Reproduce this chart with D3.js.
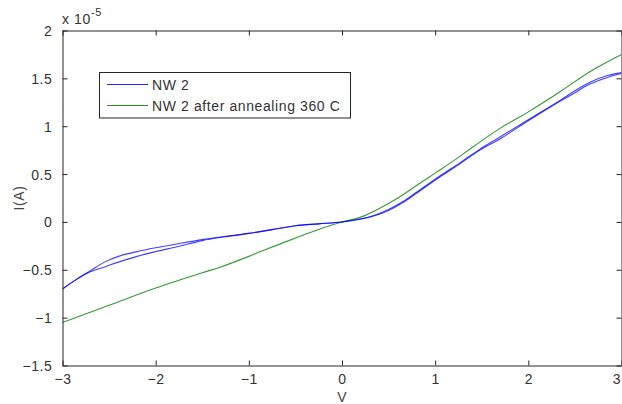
<!DOCTYPE html>
<html>
<head>
<meta charset="utf-8">
<script src="https://cdn.jsdelivr.net/npm/d3@7/dist/d3.min.js"></script>
<style>
  html, body { margin: 0; padding: 0; background: #fff; }
  svg { display: block; }
  text { font-family: Arial, "Liberation Sans", sans-serif; }
</style>
</head>
<body>
<svg id="chart" width="622" height="404"></svg>
<script>
// ---- Data (I in units of 1e-5 A) ----
const seriesNames = ["NW 2", "NW 2 after annealing 360 C"];
const xTicks = [-3, -2, -1, 0, 1, 2, 3];
const yTicks = [-1.5, -1, -0.5, 0, 0.5, 1, 1.5, 2];

// NW 2, forward sweep (upper branch in the hysteresis region)
const nw2V_up = [-3.0, -2.85, -2.7, -2.55, -2.4, -2.2, -2.0, -1.77, -1.5, -1.25, -1.0, -0.75, -0.5, -0.25, 0.0, 0.2, 0.35, 0.5, 0.65, 0.8, 1.05, 1.27, 1.48, 1.7, 2.02, 2.34, 2.5, 2.66, 2.85, 3.0];
const nw2I_up = [-0.70, -0.60, -0.51, -0.42, -0.36, -0.31, -0.27, -0.23, -0.185, -0.15, -0.12, -0.08, -0.04, -0.02, 0.0, 0.03, 0.07, 0.13, 0.21, 0.31, 0.48, 0.62, 0.76, 0.89, 1.08, 1.27, 1.37, 1.46, 1.53, 1.56];
// NW 2, reverse sweep (lower branch in the hysteresis region)
const nw2V_dn = [3.0, 2.85, 2.66, 2.5, 2.34, 2.02, 1.7, 1.48, 1.27, 1.05, 0.8, 0.65, 0.5, 0.35, 0.2, 0.0, -0.25, -0.5, -0.75, -1.0, -1.25, -1.5, -1.77, -2.0, -2.2, -2.4, -2.55, -2.7, -2.85, -3.0];
const nw2I_dn = [1.55, 1.51, 1.44, 1.35, 1.26, 1.07, 0.87, 0.75, 0.61, 0.47, 0.30, 0.20, 0.12, 0.065, 0.03, 0.0, -0.02, -0.04, -0.08, -0.12, -0.155, -0.195, -0.26, -0.31, -0.36, -0.42, -0.47, -0.52, -0.60, -0.70];

// NW 2 after annealing 360 C
const annV = [-3.0, -2.5, -2.0, -1.5, -1.3, -1.0, -0.875, -0.45, -0.2, 0.0, 0.2, 0.4, 0.6, 0.8, 1.0, 1.2, 1.4, 1.7, 2.0, 2.34, 2.66, 3.0];
const annI = [-1.05, -0.87, -0.69, -0.53, -0.47, -0.36, -0.31, -0.15, -0.06, 0.0, 0.05, 0.14, 0.25, 0.38, 0.51, 0.64, 0.78, 0.98, 1.15, 1.36, 1.57, 1.75];

// ---- Layout ----
const svg = d3.select("#chart");
const L = 62.5, R = 621.5, T = 30.5, B = 365.5;
const x = d3.scaleLinear().domain([-3, 3]).range([L, R]);
const y = d3.scaleLinear().domain([-1.5, 2]).range([B, T]);

const axisColor = "#262626";
const textColor = "#333";
const fontSize = "14px";
const ls = "0.6px";

svg.append("clipPath").attr("id", "clip")
  .append("rect").attr("x", L).attr("y", T).attr("width", R - L).attr("height", B - T);

const lineFree = d3.line().x(d => x(d[0])).y(d => y(d[1])).curve(d3.curveCatmullRom.alpha(0.5));

const g = svg.append("g").attr("clip-path", "url(#clip)");
const zip = (a, b) => a.map((v, i) => [v, b[i]]);

g.append("path").datum(zip(annV, annI))
  .attr("d", lineFree).attr("fill", "none").attr("stroke", "#008000").attr("stroke-width", 1.1).attr("stroke-opacity", 0.8);
g.append("path").datum(zip(nw2V_up, nw2I_up))
  .attr("d", lineFree).attr("fill", "none").attr("stroke", "#0000ff").attr("stroke-width", 1.1).attr("stroke-opacity", 0.75);
g.append("path").datum(zip(nw2V_dn, nw2I_dn))
  .attr("d", lineFree).attr("fill", "none").attr("stroke", "#0000ff").attr("stroke-width", 1.1).attr("stroke-opacity", 0.75);

// Axes with inward ticks (MATLAB style box)
const tickLen = 5;
const axB = svg.append("g").attr("transform", `translate(0,${B})`)
  .call(d3.axisBottom(x).tickValues(xTicks).tickSizeInner(-tickLen).tickSizeOuter(0).tickPadding(9).tickFormat(d3.format("d")));
const axT = svg.append("g").attr("transform", `translate(0,${T})`)
  .call(d3.axisTop(x).tickValues(xTicks).tickSizeInner(-tickLen).tickSizeOuter(0).tickFormat(""));
const axL = svg.append("g").attr("transform", `translate(${L},0)`)
  .call(d3.axisLeft(y).tickValues(yTicks).tickSizeInner(-tickLen).tickSizeOuter(0).tickPadding(10).tickFormat(d => d3.format("")(d)));
const axR = svg.append("g").attr("transform", `translate(${R},0)`)
  .call(d3.axisRight(y).tickValues(yTicks).tickSizeInner(-tickLen).tickSizeOuter(0).tickFormat(""));

[axB, axT, axL, axR].forEach(a => {
  a.select(".domain").attr("stroke", axisColor).attr("stroke-width", 1);
  a.selectAll(".tick line").attr("stroke", axisColor);
  a.selectAll(".tick text").attr("fill", textColor).style("font-size", fontSize)
    .style("font-family", "Arial, 'Liberation Sans', sans-serif").style("letter-spacing", ls);
});
axL.selectAll(".tick text").attr("dy", "0.36em");
axB.selectAll(".tick text").attr("dy", "0.71em");
// keep the last x label inside the window
axB.selectAll(".tick text").filter(d => d === 3).attr("text-anchor", "end").attr("dx", "-1.5px").style("letter-spacing", "0px");

// Exponent label
const expo = svg.append("text").attr("x", 62).attr("y", 24).attr("fill", textColor)
  .style("font-size", fontSize).style("letter-spacing", ls);
expo.append("tspan").text("x 10");
expo.append("tspan").attr("dy", -8).style("font-size", "11px").text("-5");

// Axis labels
svg.append("text").attr("x", x(0)).attr("y", 402).attr("text-anchor", "middle")
  .attr("fill", "#444").style("font-size", fontSize).text("V");
svg.append("text").attr("transform", `translate(24,${(T + B) / 2}) rotate(-90)`).attr("text-anchor", "middle")
  .attr("fill", "#444").style("font-size", fontSize).style("letter-spacing", ls).text("I(A)");

// Legend
const lg = svg.append("g");
lg.append("rect").attr("x", 99.5).attr("y", 72.5).attr("width", 251).attr("height", 45.5)
  .attr("fill", "#fff").attr("stroke", axisColor).attr("stroke-width", 1);
const legColors = ["#0000ff", "#008000"];
const legY = [84.5, 105.5];
seriesNames.forEach((name, i) => {
  lg.append("line").attr("x1", 107).attr("x2", 148).attr("y1", legY[i]).attr("y2", legY[i])
    .attr("stroke", legColors[i]).attr("stroke-width", 1).attr("stroke-opacity", 0.85);
  lg.append("text").attr("x", 152).attr("y", legY[i] + 5.5).attr("fill", textColor)
    .style("font-size", fontSize).style("letter-spacing", ls).text(name);
});
</script>
</body>
</html>
